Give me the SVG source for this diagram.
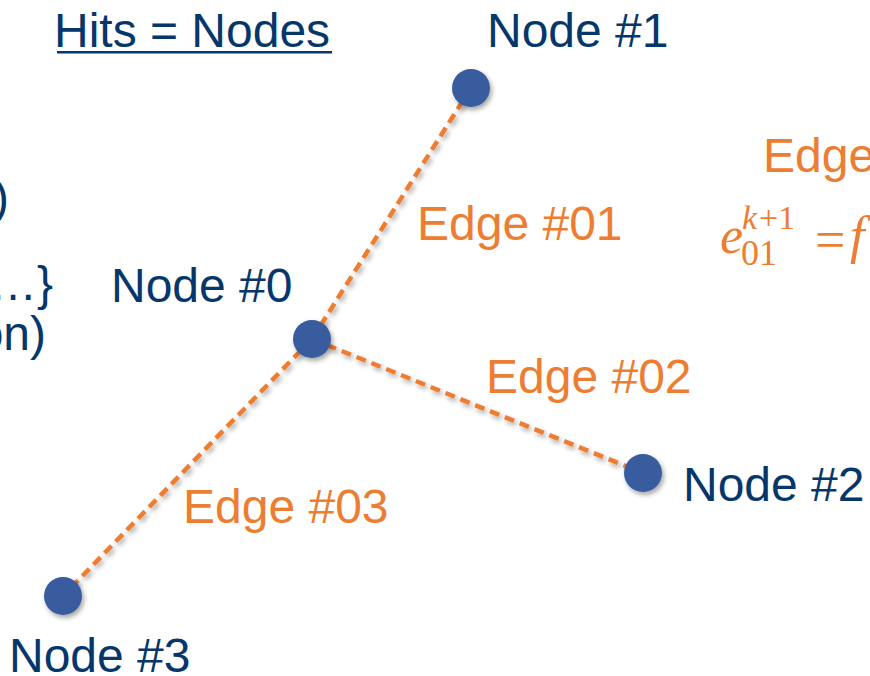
<svg xmlns="http://www.w3.org/2000/svg" width="870" height="676" viewBox="0 0 870 676">
  <defs>
    <filter id="shadow" x="-50%" y="-50%" width="200%" height="200%">
      <feGaussianBlur in="SourceAlpha" stdDeviation="2.5"/>
      <feOffset dx="2" dy="3" result="blur"/>
      <feComponentTransfer><feFuncA type="linear" slope="0.35"/></feComponentTransfer>
      <feMerge><feMergeNode/><feMergeNode in="SourceGraphic"/></feMerge>
    </filter>
  </defs>
  <style>
    .navy { fill: #06376B; font-family: "Liberation Sans", Arial, sans-serif; font-size: 48px; }
    .orange { fill: #ED7D31; font-family: "Liberation Sans", Arial, sans-serif; font-size: 48px; }
    .math { fill: #ED7D31; font-family: "Liberation Serif", "Times New Roman", serif; font-style: italic; }
    .math-up { fill: #ED7D31; font-family: "Liberation Serif", "Times New Roman", serif; font-style: normal; }
    .edge { stroke: #ED7D31; stroke-width: 4.5; stroke-dasharray: 10 6; fill: none; }
    .dot { fill: #385C9D; }
  </style>
  <rect width="870" height="676" fill="#ffffff"/>

  <!-- title -->
  <text class="navy" x="54" y="47">Hits = Nodes</text>
  <rect x="57" y="51" width="275" height="2.5" fill="#06376B"/>

  <!-- clipped lines at the left margin -->
  <text class="navy" x="9" y="214" text-anchor="end">)</text>
  <text class="navy" x="53" y="300" text-anchor="end">…}</text>
  <text class="navy" x="46" y="350" text-anchor="end">on)</text>

  <!-- connectors -->
  <g id="edges" filter="url(#shadow)">
    <line class="edge" x1="312" y1="339" x2="471" y2="88"/>
    <line class="edge" x1="312" y1="339" x2="643" y2="473"/>
    <line class="edge" x1="312" y1="339" x2="63" y2="596"/>
  </g>

  <!-- nodes -->
  <g id="node0">
    <circle class="dot" cx="312" cy="339" r="19" filter="url(#shadow)"/>
    <text class="navy" x="111" y="302">Node #0</text>
  </g>
  <g id="node1">
    <circle class="dot" cx="471" cy="88" r="19" filter="url(#shadow)"/>
    <text class="navy" x="487" y="47">Node #1</text>
  </g>
  <g id="node2">
    <circle class="dot" cx="643" cy="473" r="19" filter="url(#shadow)"/>
    <text class="navy" x="683" y="501">Node #2</text>
  </g>
  <g id="node3">
    <circle class="dot" cx="63" cy="596" r="19" filter="url(#shadow)"/>
    <text class="navy" x="9" y="672">Node #3</text>
  </g>

  <!-- edge labels -->
  <g id="labels">
    <text class="orange" x="417" y="240">Edge #01</text>
    <text class="orange" x="486" y="393">Edge #02</text>
    <text class="orange" x="183" y="523">Edge #03</text>
    <text class="orange" x="763" y="172">Edge</text>
  </g>

  <!-- update formula -->
  <g id="formula">
    <text class="math" x="720" y="253" font-size="52">e</text>
    <text class="math" x="742" y="229" font-size="34">k</text>
    <text class="math-up" x="759" y="229" font-size="34">+1</text>
    <text class="math-up" x="741" y="265" font-size="36">01</text>
    <text class="math-up" x="815" y="258" font-size="54">=</text>
    <text class="math" x="850" y="253" font-size="52">f</text>
  </g>
</svg>
